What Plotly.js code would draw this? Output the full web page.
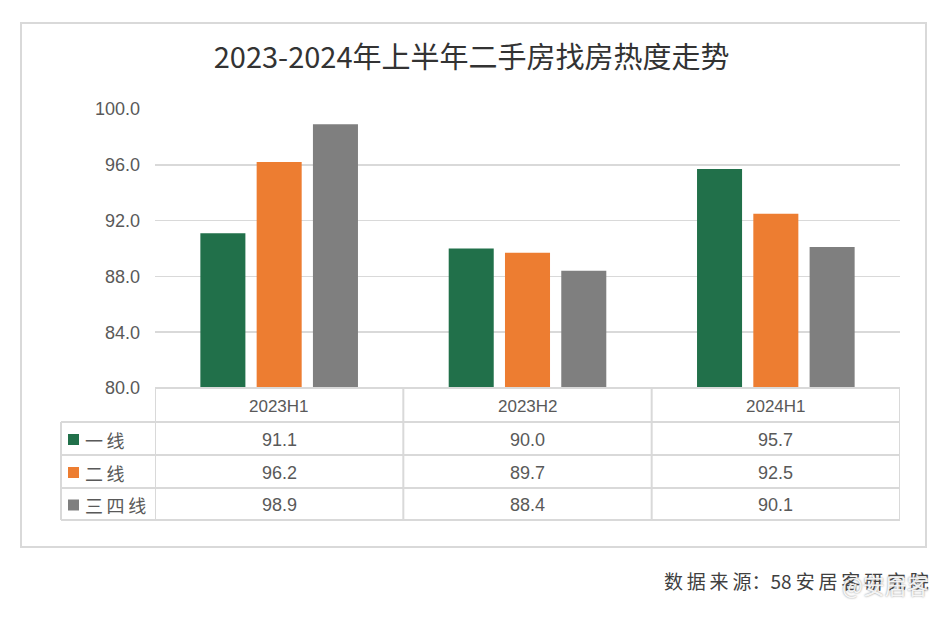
<!DOCTYPE html>
<html>
<head>
<meta charset="utf-8">
<script src="https://cdn.plot.ly/plotly-3.0.1.min.js"></script>
<style>html,body{margin:0;padding:0;background:#fff;}#chart{width:949px;height:622px;}</style>
</head>
<body>
<div id="chart"></div>
<script>
const titleText = '2023-2024年上半年二手房找房热度走势';
const categories = ['2023H1', '2023H2', '2024H1'];
const seriesNames = ['一线', '二线', '三四线'];
const tier1 = [91.1, 90.0, 95.7];
const tier2 = [96.2, 89.7, 92.5];
const tier34 = [98.9, 88.4, 90.1];
const yTicks = [80, 84, 88, 92, 96, 100];
const sourceText = '数据来源：58 安居客研究院';
const watermarkText = '@安居客';

const seriesValues = [tier1, tier2, tier34];
const colors = ['#21704a', '#ed7d31', '#7f7f7f'];

const W = 949, H = 622;
const mL = 155, mR = 49, mT = 109, mB = 234;
const pw = W - mL - mR, ph = H - mT - mB;
const px = x => (x - mL) / pw;          // pixel -> paper x
const py = y => (H - mB - y) / ph;      // pixel -> paper y

const font = 'Liberation Sans, Arial, sans-serif';
const cjk = '"Noto Sans CJK SC", sans-serif';
const lineColor = '#d9d9d9';

const traces = seriesValues.map((vals, i) => ({
  type: 'bar',
  name: seriesNames[i],
  x: categories,
  y: vals,
  marker: { color: colors[i] },
  showlegend: false,
  hoverinfo: 'none'
}));

const shapes = [];
const annotations = [];

shapes.push({ type: 'rect', xref: 'paper', yref: 'paper', x0: px(21), x1: px(926), y0: py(23), y1: py(547),
  line: { color: lineColor, width: 2 }, layer: 'below' });

const rowY = [388, 422, 455, 488, 520];
const tableLeft = 61, tableRight = 900;
shapes.push({ type: 'line', xref: 'paper', yref: 'paper', x0: 0, x1: px(tableRight), y0: py(rowY[0]), y1: py(rowY[0]), line: { color: lineColor, width: 2 } });
for (let r = 1; r < rowY.length; r++) {
  shapes.push({ type: 'line', xref: 'paper', yref: 'paper', x0: px(tableLeft), x1: px(tableRight), y0: py(rowY[r]), y1: py(rowY[r]), line: { color: lineColor, width: 2 } });
}
for (let c = 0; c <= categories.length; c++) {
  shapes.push({ type: 'line', xref: 'x', yref: 'paper', x0: c - 0.5, x1: c - 0.5, y0: py(rowY[0]), y1: py(rowY[4]), line: { color: lineColor, width: 2 } });
}
shapes.push({ type: 'line', xref: 'paper', yref: 'paper', x0: px(tableLeft), x1: px(tableLeft), y0: py(rowY[1]), y1: py(rowY[4]), line: { color: lineColor, width: 2 } });

categories.forEach((c, i) => {
  annotations.push({ x: i, xref: 'x', y: py((rowY[0] + rowY[1]) / 2 + 1), yref: 'paper', text: c, showarrow: false,
    font: { family: font, size: 17, color: '#595959' }, xanchor: 'center', yanchor: 'middle' });
});
seriesNames.forEach((name, r) => {
  const yc = (rowY[r + 1] + rowY[r + 2]) / 2 + 1;
  shapes.push({ type: 'rect', xref: 'paper', yref: 'paper', x0: px(68), x1: px(79), y0: py(yc - 5.5), y1: py(yc + 5.5),
    line: { width: 0 }, fillcolor: colors[r] });
  annotations.push({ x: px(83), xref: 'paper', y: py(yc), yref: 'paper', text: name.split('').join('\u2009'), showarrow: false,
    font: { family: cjk, size: 18, color: '#595959' }, xanchor: 'left', yanchor: 'middle' });
  seriesValues[r].forEach((v, i) => {
    annotations.push({ x: i, xref: 'x', y: py(yc), yref: 'paper', text: v.toFixed(1), showarrow: false,
      font: { family: font, size: 18, color: '#595959' }, xanchor: 'center', yanchor: 'middle' });
  });
});

// spread CJK characters slightly like the reference's typesetting
const spaced = sourceText.replace(/([\u4e00-\u9fff])(?=[\u4e00-\u9fff])/g, '$1\u2009');
annotations.push({ x: px(931), xref: 'paper', y: py(580), yref: 'paper', text: spaced, showarrow: false,
  font: { family: cjk, size: 19, color: '#404040' }, xanchor: 'right', yanchor: 'middle' });
annotations.push({ x: px(931), xref: 'paper', y: py(584), yref: 'paper', text: watermarkText, showarrow: false,
  font: { family: cjk, size: 22, color: 'rgba(255,255,255,0.9)', shadow: '0px 0px 2px #777' }, xanchor: 'right', yanchor: 'middle' });

const layout = {
  width: W, height: H,
  margin: { l: mL, r: mR, t: mT, b: mB },
  paper_bgcolor: '#fff', plot_bgcolor: '#fff',
  title: { text: titleText, x: 0.497, xanchor: 'center', y: 1 - 58 / H, yanchor: 'middle',
    font: { family: cjk, size: 29, color: '#333333' } },
  barmode: 'group', bargap: 0.32, bargroupgap: 0.2,
  xaxis: { type: 'category', range: [-0.5, 2.5], showticklabels: false, showgrid: false, zeroline: false, showline: false, ticks: '' },
  yaxis: { range: [80, 100], tickvals: yTicks, ticktext: yTicks.map(v => v.toFixed(1)),
    showgrid: true, gridcolor: lineColor, gridwidth: 1.5, zeroline: false, showline: false, ticks: '',
    ticklabelstandoff: 14, tickfont: { family: font, size: 18, color: '#595959' } },
  shapes, annotations, showlegend: false
};

Plotly.newPlot('chart', traces, layout, { displayModeBar: false, staticPlot: true });
</script>
</body>
</html>
